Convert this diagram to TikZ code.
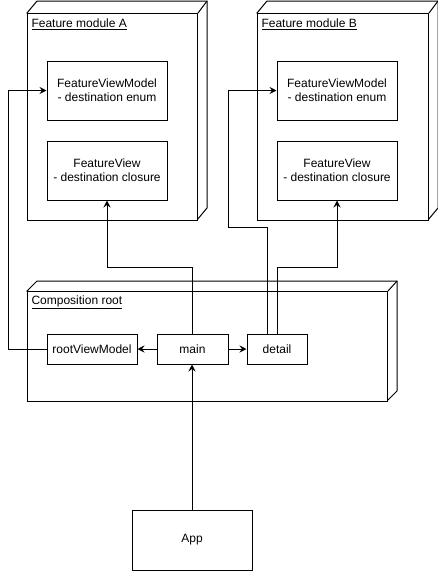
\documentclass[tikz,border=0pt]{standalone}
\usepackage{fontspec}
\setmainfont{Liberation Sans}
\usetikzlibrary{arrows.meta}
\begin{document}
\begin{tikzpicture}[x=1pt,y=-1pt,line width=1pt,
  box/.style={draw,fill=white,rectangle,inner sep=0pt,align=center,font=\fontsize{12}{14}\selectfont},
  title/.style={anchor=west,inner sep=0pt,font=\fontsize{12}{14}\selectfont},
  arr/.style={-{Stealth[length=7pt,width=7pt,inset=2.5pt]}},
  conn/.style={line width=1pt}]
\useasboundingbox (0,0) rectangle (438,571);
% Feature module A
\draw[fill=white] (27,13) -- (37,1) -- (207,1) -- (207,208) -- (197,220) -- cycle;
\node[draw,fill=white,minimum width=170pt,minimum height=207pt,inner sep=0pt,anchor=north west] (modA) at (27,13) {};
\draw (modA.north east) -- (207,1);
\node[title] (titA) at (31,24) {\underline{Feature module A}};
% Feature module B
\draw[fill=white] (257,13) -- (267,1) -- (438,1) -- (438,208) -- (428,220) -- cycle;
\node[draw,fill=white,minimum width=171pt,minimum height=207pt,inner sep=0pt,anchor=north west] (modB) at (257,13) {};
\draw (modB.north east) -- (438,1);
\node[title] (titB) at (261,24) {\underline{Feature module B}};
% Composition root
\draw[fill=white] (27,291) -- (37,281) -- (397,281) -- (397,391) -- (387,401) -- cycle;
\node[draw,fill=white,minimum width=360pt,minimum height=110pt,inner sep=0pt,anchor=north west] (comp) at (27,291) {};
\draw (comp.north east) -- (397,281);
\node[title] (titC) at (31,302) {\underline{Composition root}};
% inner boxes
\node[box,minimum width=120pt,minimum height=59pt] (fvmA) at (107,90.5) {FeatureViewModel\\- destination enum};
\node[box,minimum width=120pt,minimum height=59pt] (fvA) at (107,170.5) {FeatureView\\- destination closure};
\node[box,minimum width=120pt,minimum height=59pt] (fvmB) at (337,90.5) {FeatureViewModel\\- destination enum};
\node[box,minimum width=120pt,minimum height=59pt] (fvB) at (337,170.5) {FeatureView\\- destination closure};
\node[box,minimum width=90pt,minimum height=30pt] (rvm) at (92,349) {rootViewModel};
\node[box,minimum width=71pt,minimum height=30pt] (main) at (192.5,349) {main};
\node[box,minimum width=60pt,minimum height=30pt] (detail) at (277,349) {detail};
\node[box,minimum width=120pt,minimum height=60pt] (app) at (192,540) {App};
% connectors
\draw[arr] (app.north) -- (app.north |- main.south);
\draw[arr] (main.west) -- (rvm.east);
\draw[arr] (main.east) -- (detail.west);
\draw[arr] (rvm.west) -- (8,349) -- (8,90.5) -- (fvmA.west);
\draw[arr] (192,334) -- (192,267) -- (107,267) -- (fvA.south);
\draw[arr] ([xshift=-10pt]detail.north) -- (267,227) -- (228,227) -- (228,90.5) -- (fvmB.west);
\draw[arr] (detail.north) -- (277,267) -- (337,267) -- (fvB.south);
\end{tikzpicture}
\end{document}
